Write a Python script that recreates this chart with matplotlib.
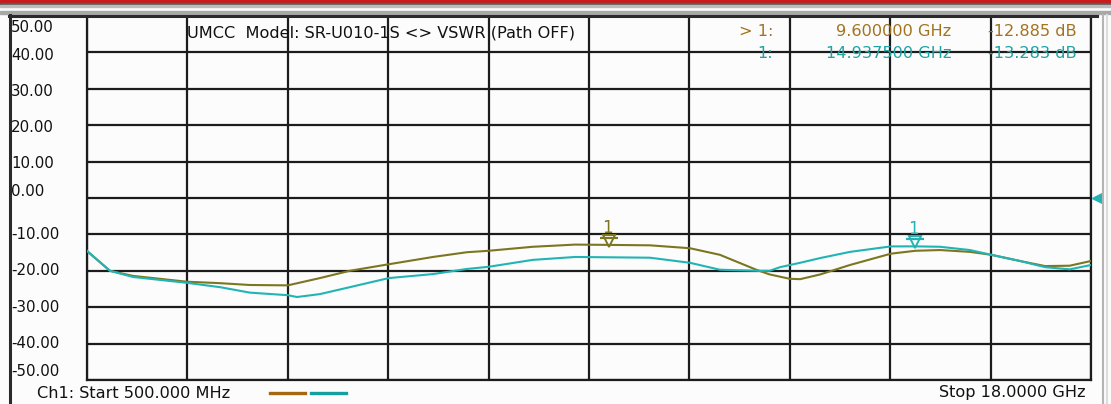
import matplotlib
matplotlib.use('Agg')
import matplotlib.pyplot as plt
import matplotlib.transforms as mtransforms
from matplotlib.lines import Line2D
from matplotlib.patches import Rectangle
import numpy as np

# ---------------- data ----------------
freq_olive = [0.5, 0.9, 1.30, 2.24, 2.82, 3.34, 4.00, 4.56, 5.08, 5.76, 6.53, 7.12, 7.50,
              8.27, 9.01, 9.60, 10.31, 11.01, 11.53, 12.18, 12.40, 12.75, 12.93, 13.28,
              13.80, 14.51, 14.94, 15.37, 15.89, 16.26, 16.76, 17.20, 17.63, 18.0]
db_olive = [-14.6, -20.0, -21.4, -23.0, -23.4, -23.9, -24.0, -22.0, -20.0, -18.2, -16.2, -14.9, -14.5,
            -13.4, -12.8, -12.885, -13.0, -13.8, -15.6, -19.8, -21.0, -22.2, -22.3, -21.0,
            -18.4, -15.3, -14.5, -14.3, -14.8, -15.6, -17.3, -18.7, -18.6, -17.3]

freq_teal = [0.5, 0.9, 1.30, 2.24, 2.82, 3.34, 4.00, 4.16, 4.56, 5.08, 5.76, 6.53, 7.12, 7.50,
             8.27, 9.01, 10.31, 11.01, 11.53, 12.18, 12.40, 12.58, 12.93, 13.28, 13.80,
             14.51, 14.9375, 15.37, 15.89, 16.26, 16.76, 17.20, 17.63, 18.0]
db_teal = [-14.5, -20.0, -21.7, -23.3, -24.5, -26.0, -26.7, -27.2, -26.4, -24.5, -22.0, -20.9, -19.5, -18.9,
           -17.0, -16.2, -16.4, -17.8, -19.7, -20.0, -20.0, -19.0, -17.8, -16.5, -14.8,
           -13.3, -13.283, -13.4, -14.3, -15.6, -17.3, -19.0, -19.6, -18.4]

y_ticks = [50, 40, 30, 20, 10, 0, -10, -20, -30, -40, -50]
y_tick_labels = ['50.00', '40.00', '30.00', '20.00', '10.00', '0.00',
                 '-10.00', '-20.00', '-30.00', '-40.00', '-50.00']
f_start, f_stop = 0.5, 18.0

title = 'UMCC  Model: SR-U010-1S <> VSWR (Path OFF)'
marker_freqs = [9.6, 14.9375]
marker_dbs = [-12.885, -13.283]
marker_names = ['> 1:', '1:']
marker_freq_text = ['9.600000 GHz', '14.937500 GHz']
marker_db_text = ['-12.885 dB', '-13.283 dB']
start_text = 'Ch1: Start 500.000 MHz'
stop_text = 'Stop 18.0000 GHz'

# ---------------- style ----------------
W, H = 1111, 404
OLIVE = '#7d7620'
TEAL = '#22b4b4'
BROWN_TXT = '#a2731f'
TEAL_TXT = '#1fa3a3'
GRID = '#1c1c1c'
FONT = 'DejaVu Sans'
FS = 11.6

fig = plt.figure(figsize=(W / 100, H / 100), dpi=100)
fig.patch.set_facecolor('#fcfcfc')

def fx(x):
    return x / W

def fy(y):
    return 1 - y / H

# window decorations (figure pixels)
fig.patches.append(Rectangle((0, fy(3)), 1, 3 / H, transform=fig.transFigure, color='#cc1a1a', zorder=0))
fig.patches.append(Rectangle((0, fy(5)), 1, 2 / H, transform=fig.transFigure, color='#5a5a5a', zorder=0))
fig.patches.append(Rectangle((0, fy(7)), 1, 2 / H, transform=fig.transFigure, color='#bcbcbc', zorder=0))
fig.patches.append(Rectangle((0, fy(14)), 1, 3 / H, transform=fig.transFigure, color='#a8a8a8', zorder=0))
fig.lines.append(Line2D([fx(10), fx(10)], [fy(15), fy(404)], transform=fig.transFigure, color='#2a2a2a', lw=2.2))
fig.lines.append(Line2D([fx(9), fx(1097)], [fy(16), fy(16)], transform=fig.transFigure, color='#2a2a2a', lw=2.2))
fig.lines.append(Line2D([fx(1103), fx(1103)], [fy(15), fy(404)], transform=fig.transFigure, color='#b4b4b4', lw=1.5))
fig.lines.append(Line2D([fx(1107), fx(1107)], [fy(15), fy(404)], transform=fig.transFigure, color='#dcdcdc', lw=1.5))

ax = fig.add_axes([87 / W, 24 / H, 1004 / W, 364 / H])
ax.set_facecolor('#fcfcfc')
ax.set_xlim(f_start, f_stop)
ax.set_ylim(-50, 50)
ax.set_xticks(np.linspace(f_start, f_stop, 11))
ax.set_yticks(y_ticks)
ax.grid(True, color=GRID, lw=1.6)
ax.tick_params(length=0, labelbottom=False, labelleft=False)
for s in ax.spines.values():
    s.set_color(GRID)
    s.set_linewidth(1.6)
ax.spines['top'].set_linewidth(2.6)

ax.plot(freq_olive, db_olive, color=OLIVE, lw=1.5, zorder=3)
ax.plot(freq_teal, db_teal, color=TEAL, lw=1.5, zorder=4)

# markers
for f, d, c in zip(marker_freqs, marker_dbs, [OLIVE, TEAL]):
    tr = mtransforms.offset_copy(ax.transData, fig=fig, x=0, y=4, units='dots')
    ax.plot([f], [d], marker='v', ms=8, mfc='none', mec=c, mew=1.4, transform=tr, zorder=5, clip_on=False)
    ax.plot([f], [d], marker='_', ms=13, mec=c, mew=1.6,
            transform=mtransforms.offset_copy(ax.transData, fig=fig, x=0, y=7, units='dots'), zorder=5)
    ax.text(f, d, '1', color=c, fontsize=12, family=FONT, ha='center', va='bottom',
            transform=mtransforms.offset_copy(ax.transData, fig=fig, x=-2, y=8, units='dots'), zorder=5)

# reference level marker on the right
ax.plot([f_stop], [0], marker='<', ms=7, color=TEAL, clip_on=False,
        transform=mtransforms.offset_copy(ax.transData, fig=fig, x=6, y=0, units='dots'), zorder=6)

# y labels
ytr = mtransforms.blended_transform_factory(fig.transFigure, ax.transData)
nudge = {50: -12, 40: -3, 30: -3, 20: -2, 10: -2, 0: 6, -50: 8}
for v, lab in zip(y_ticks, y_tick_labels):
    tr = mtransforms.offset_copy(ytr, fig=fig, x=0, y=nudge.get(v, 0), units='dots')
    fig.text(fx(11), v, lab, transform=tr, fontsize=10.8, family=FONT, ha='left', va='center', color='#111111')

# header
fig.text(fx(187), fy(33), title, fontsize=FS, family=FONT, ha='left', va='center', color='#111111')
for i, (n, ft, dt) in enumerate(zip(marker_names, marker_freq_text, marker_db_text)):
    c = BROWN_TXT if i == 0 else TEAL_TXT
    y = fy(31 + 23 * i)
    fig.text(fx(773), y, n, fontsize=FS, family=FONT, ha='right', va='center', color=c)
    fig.text(fx(951), y, ft, fontsize=FS, family=FONT, ha='right', va='center', color=c)
    fig.text(fx(1077), y, dt, fontsize=FS, family=FONT, ha='right', va='center', color=c)

# footer
fig.text(fx(37), fy(393), start_text, fontsize=FS, family=FONT, ha='left', va='center', color='#111111')
fig.text(fx(1086), fy(393), stop_text, fontsize=FS, family=FONT, ha='right', va='center', color='#111111')
fig.lines.append(Line2D([fx(270), fx(305)], [fy(393), fy(393)], transform=fig.transFigure, color='#a5670f', lw=2.4))
fig.lines.append(Line2D([fx(311), fx(346)], [fy(393), fy(393)], transform=fig.transFigure, color='#15a0a0', lw=2.4))

fig.savefig('out.png', dpi=100, facecolor=fig.get_facecolor())
